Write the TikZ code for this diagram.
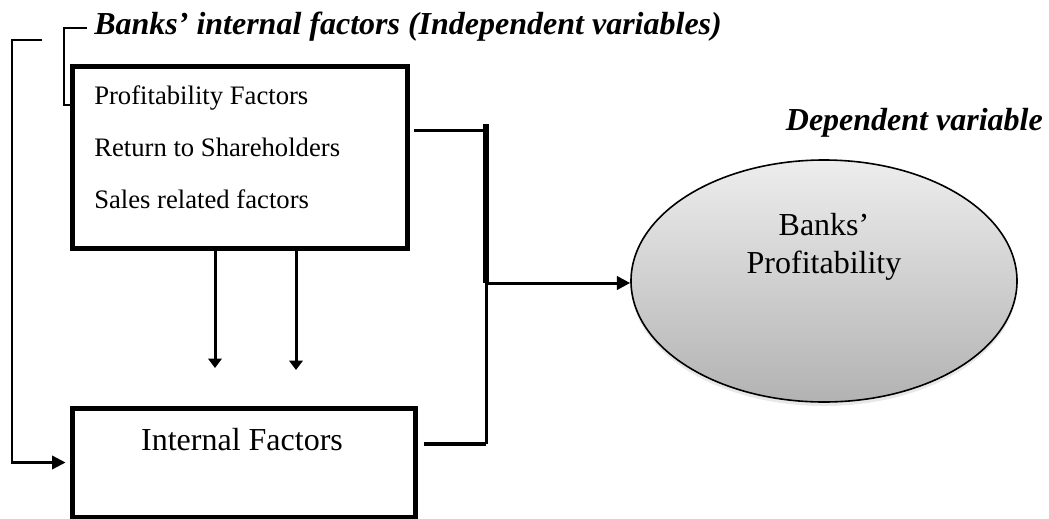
\documentclass[tikz,border=0pt]{standalone}
\usepackage{fontspec}
\setmainfont{Liberation Serif}
\usetikzlibrary{positioning,arrows.meta,shapes.geometric,shadows}

\begin{document}
\begin{tikzpicture}[x=0.75pt,y=-0.75pt,
		factorbox/.style={draw, rectangle, line width=3.75pt, inner sep=0pt},
		heading/.style={font=\fontsize{24}{29}\selectfont\bfseries\itshape, inner sep=0pt},
		item/.style={font=\fontsize{20}{24}\selectfont, inner sep=0pt, anchor=base west},
		bigtext/.style={font=\fontsize{24}{29}\selectfont, inner sep=0pt, align=center},
		link/.style={line width=2.25pt},
		bracket/.style={line width=1.8pt},
		tip/.style={-{Triangle[length=10pt,width=10pt]}},
		downtip/.style={-{Triangle[length=7pt,width=10pt]}}]
			\useasboundingbox (0,0) rectangle (1049,518);

			% boxes and ellipse
			\node[factorbox, minimum width=251.25pt, minimum height=136.5pt] (topbox) at (239.5,157) {};
			\node[factorbox, minimum width=257.25pt, minimum height=81.75pt] (botbox) at (243.5,462.5) {};
			\node[ellipse, draw, line width=1.2pt, top color=black!7, bottom color=black!30,
				drop shadow={opacity=0.18, shadow xshift=0pt, shadow yshift=-3pt},
				minimum width=289.5pt, minimum height=181.5pt] (profit) at (824,281) {};

			% texts
			\node[heading, anchor=base west] (indep) at (94,34) {Banks’ internal factors (Independent variables)};
			\node[heading, anchor=base east] (dep) at (1043,130) {Dependent variable};
			\node[item] (pf) at (94,104) {Profitability Factors};
			\node[item] (rs) at (94,156) {Return to Shareholders};
			\node[item] (sr) at (94,208) {Sales related factors};
			\node[bigtext, anchor=base] (intf) at (242,450) {Internal Factors};
			\node[bigtext] (bp) at (824,247) {Banks’\\Profitability};

			% bus points
			\coordinate (busA) at (486,130);
			\coordinate (busTop) at (486,124);
			\coordinate (busM) at (486,283);
			\coordinate (busB) at (486,444);
			\coordinate (dA) at (215,368);
			\coordinate (dB) at (296,370);

			% brackets
			\coordinate (hb1) at (87,28);
			\coordinate (hb2) at (64,28);
			\coordinate (hb3) at (64,105);
			\draw[bracket] (hb1) -- (hb2) -- (hb3) -- (topbox.west |- hb3);
			\coordinate (ob1) at (42,40);
			\coordinate (ob2) at (12,40);
			\coordinate (ob3) at (12,462.5);
			\draw[bracket, tip] (ob1) -- (ob2) -- (ob3) -- ([xshift=-3pt]botbox.west);

			% boxes into the bus
			\draw[link] ([xshift=3.5pt]topbox.east |- busA) -- (busA);
			\draw[line width=4pt] (busTop) -- (busM);
			\draw[link] (busM) -- (busB);
			\draw[line width=3pt] ([xshift=5pt]botbox.east |- busB) -- (busB);

			% arrows
			\draw[link, tip] (busM) -- (busM -| profit.west);
			\draw[link, downtip] (topbox.south -| dA) -- (dA);
			\draw[link, downtip] (topbox.south -| dB) -- (dB);

		\end{tikzpicture}
\end{document}
